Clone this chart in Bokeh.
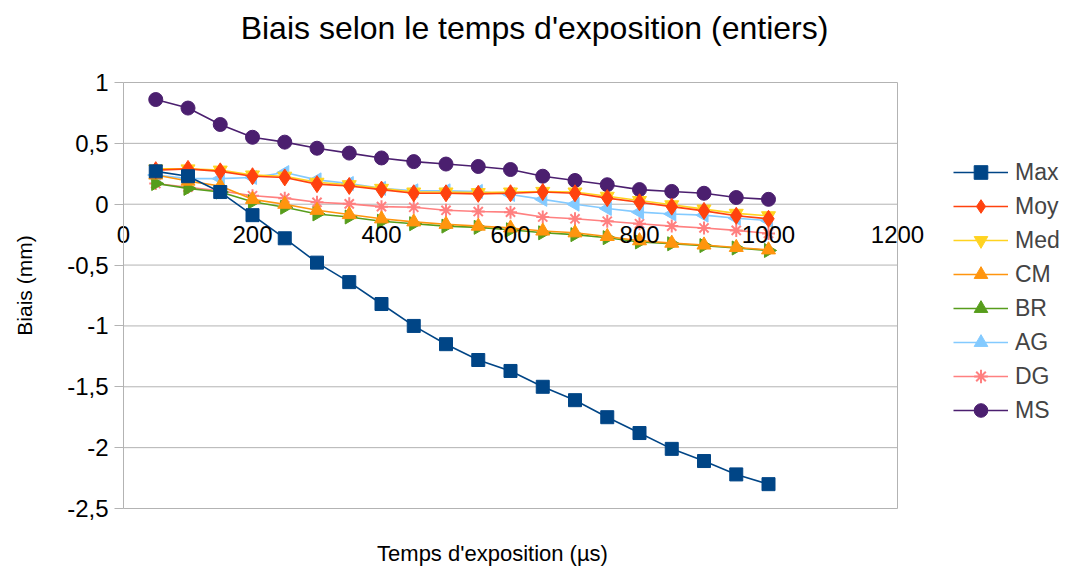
import math
from bokeh.plotting import figure
from bokeh.models import (Range1d, FixedTicker, CustomJSTickFormatter, Legend, LegendItem, Label)
from bokeh.embed import file_html
from bokeh.resources import INLINE

# ---- data ----
x_vals = [50, 100, 150, 200, 250, 300, 350, 400, 450, 500,
          550, 600, 650, 700, 750, 800, 850, 900, 950, 1000]

max_vals = [0.27, 0.23, 0.10, -0.09, -0.28, -0.48, -0.64, -0.82, -1.00, -1.15,
            -1.28, -1.37, -1.50, -1.61, -1.75, -1.88, -2.01, -2.11, -2.22, -2.30]
moy_vals = [0.28, 0.29, 0.27, 0.23, 0.22, 0.165, 0.15, 0.12, 0.09, 0.09,
            0.085, 0.09, 0.10, 0.09, 0.05, 0.016, -0.02, -0.055, -0.095, -0.12]
med_vals = [0.29, 0.29, 0.28, 0.24, 0.23, 0.18, 0.16, 0.13, 0.10, 0.10,
            0.095, 0.10, 0.105, 0.10, 0.065, 0.03, -0.005, -0.04, -0.075, -0.095]
cm_vals = [0.24, 0.19, 0.15, 0.04, 0.0, -0.05, -0.085, -0.12, -0.145, -0.165,
           -0.18, -0.195, -0.22, -0.235, -0.265, -0.30, -0.32, -0.335, -0.355, -0.375]
br_vals = [0.17, 0.13, 0.10, 0.02, -0.025, -0.08, -0.105, -0.14, -0.16, -0.18,
           -0.19, -0.21, -0.235, -0.25, -0.275, -0.31, -0.325, -0.34, -0.36, -0.38]
ag_vals = [0.24, 0.21, 0.21, 0.22, 0.26, 0.20, 0.17, 0.13, 0.11, 0.11,
           0.105, 0.08, 0.04, 0.0, -0.035, -0.065, -0.08, -0.09, -0.115, -0.135]
dg_vals = [0.17, 0.14, 0.11, 0.07, 0.05, 0.016, 0.003, -0.02, -0.025, -0.05,
           -0.06, -0.065, -0.105, -0.12, -0.14, -0.16, -0.18, -0.195, -0.215, -0.24]
ms_vals = [0.86, 0.79, 0.655, 0.55, 0.51, 0.46, 0.42, 0.38, 0.35, 0.33,
           0.31, 0.285, 0.23, 0.195, 0.16, 0.12, 0.105, 0.09, 0.055, 0.04]

series_names = ["Max", "Moy", "Med", "CM", "BR", "AG", "DG", "MS"]
series_vals = [max_vals, moy_vals, med_vals, cm_vals, br_vals, ag_vals, dg_vals, ms_vals]
colors = ["#004586", "#ff420e", "#ffd320", "#ff950e", "#579d1c", "#83caff", "#ff8080", "#4b1f6f"]
markers = ["square", "diamond", "inverted_triangle", "triangle", "triangle", "triangle", "asterisk", "circle"]
angles = [0, 0, 0, 0, -math.pi / 2, math.pi / 2, 0, 0]
sizes = [13, 17, 14, 14, 14, 14, 13, 14]

x_ticks = [0, 200, 400, 600, 800, 1000, 1200]
y_ticks = [-2.5, -2, -1.5, -1, -0.5, 0, 0.5, 1]

title_text = "Biais selon le temps d'exposition (entiers)"
x_title = "Temps d'exposition (µs)"
y_title = "Biais (mm)"

FONT = "Liberation Sans"
GRID = "#b3b3b3"

W, H = 1065, 567
# plot area (pixels) of the reference
PL, PR, PT, PB = 123, 897, 82, 508
xs = (PR - PL) / (x_ticks[-1] - x_ticks[0])
ys = (PB - PT) / (y_ticks[-1] - y_ticks[0])
x_range = Range1d(x_ticks[0] - PL / xs, x_ticks[-1] + (W - PR) / xs)
y_range = Range1d(y_ticks[0] - (H - PB) / ys, y_ticks[-1] + PT / ys)

p = figure(width=W, height=H, output_backend="svg", toolbar_location=None,
           x_range=x_range, y_range=y_range,
           min_border_left=0, min_border_right=0, min_border_top=0, min_border_bottom=0)
p.outline_line_color = None
p.xgrid.grid_line_color = None
p.ygrid.grid_line_color = None

# grid lines and frame edges of the plot area
p.segment(x0=x_ticks[0], x1=x_ticks[-1], y0=y_ticks, y1=y_ticks, line_color=GRID, line_width=1)
p.segment(x0=[x_ticks[-1]], x1=[x_ticks[-1]], y0=[y_ticks[0]], y1=[y_ticks[-1]],
          line_color=GRID, line_width=1)

# x axis crossing at y = 0
p.xaxis.fixed_location = 0
p.xaxis.bounds = (x_ticks[0], x_ticks[-1])
p.xaxis.ticker = FixedTicker(ticks=x_ticks)
p.xaxis.axis_line_color = None
p.xaxis.major_tick_line_color = None
p.xaxis.minor_tick_line_color = None
p.xaxis.major_label_standoff = 16
p.xaxis.major_label_text_font = FONT
p.xaxis.major_label_text_font_size = "24px"
p.xaxis.major_label_text_color = "black"

# y axis at x = 0
p.yaxis.fixed_location = 0
p.yaxis.bounds = (y_ticks[0], y_ticks[-1])
p.yaxis.ticker = FixedTicker(ticks=y_ticks)
p.yaxis.formatter = CustomJSTickFormatter(code="return tick.toString().replace('.', ',');")
p.yaxis.axis_line_color = GRID
p.yaxis.major_tick_line_color = GRID
p.yaxis.major_tick_out = 9
p.yaxis.major_tick_in = 0
p.yaxis.minor_tick_line_color = None
p.yaxis.major_label_standoff = 6
p.yaxis.major_label_text_font = FONT
p.yaxis.major_label_text_font_size = "24px"
p.yaxis.major_label_text_color = "black"

# titles
p.add_layout(Label(x=534, y=H - 27, x_units="screen", y_units="screen", text=title_text,
                   text_align="center", text_baseline="middle", text_font=FONT,
                   text_font_size="32px", text_color="black"))
p.add_layout(Label(x=492, y=H - 553, x_units="screen", y_units="screen", text=x_title,
                   text_align="center", text_baseline="middle", text_font=FONT,
                   text_font_size="22px", text_color="black"))
p.add_layout(Label(x=24, y=H - 285, x_units="screen", y_units="screen", text=y_title,
                   angle=math.pi / 2, text_align="center", text_baseline="middle",
                   text_font=FONT, text_font_size="21px", text_color="black"))

renderers = []
for name, vals, col, mk, ang, sz in zip(series_names, series_vals, colors, markers, angles, sizes):
    r_line = p.line(x_vals, vals, line_color=col, line_width=1.6)
    r_mk = p.scatter(x_vals, vals, marker=mk, size=sz, angle=ang, fill_color=col,
                     line_color=col, line_width=2 if mk == "asterisk" else 1)
    renderers.append((name, r_line, r_mk))

# draw order: first series on top
series_r = [x for (_, a, b) in renderers for x in (a, b)]
others = [r for r in p.renderers if r not in series_r]
p.renderers = others + [r for (_, a, b) in reversed(renderers) for r in (a, b)]

items = [LegendItem(label=name, renderers=[a, b]) for name, a, b in renderers]
legend = Legend(items=items, location=(953, H - 427), orientation="vertical",
                glyph_width=55, glyph_height=34, label_height=26, spacing=0,
                label_standoff=7, padding=0, margin=0,
                label_text_font=FONT, label_text_font_size="23px",
                border_line_color=None, background_fill_alpha=0)
p.add_layout(legend, "center")

open("out.html", "w").write(file_html(p, INLINE))
